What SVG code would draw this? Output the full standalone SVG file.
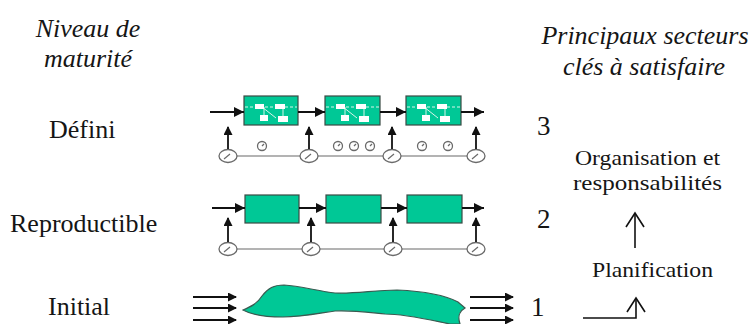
<svg xmlns="http://www.w3.org/2000/svg" width="755" height="324" viewBox="0 0 755 324">
<style>
.t{fill:#151515}
.it{font-style:italic;font-size:26px}
.lv{font-size:26px}
.num{font-size:27px}
.sm{font-size:21px}
.box{fill:#00C896;stroke:#3a4a44;stroke-width:1.2}
.flow{stroke:#111;stroke-width:2;fill:none}
.up{stroke:#111;stroke-width:1.8;fill:none}
.gl{stroke:#9a9a9a;stroke-width:1.6;fill:none}
.clk{fill:#fff;stroke:#6a6a6a;stroke-width:1.3}
.hand{stroke:#6a6a6a;stroke-width:1.2}
.wr{fill:#fff}
.wl{stroke:#d8f5ea;stroke-width:1}
.chev{stroke:#111;stroke-width:1.6;fill:none}
.blob{fill:#00C896;stroke:#3a5a50;stroke-width:1.2}
</style>
<defs>
<marker id="ah" markerUnits="userSpaceOnUse" markerWidth="12" markerHeight="12" refX="10" refY="5" orient="auto">
<path d="M0,0 L10,5 L0,10 Z" fill="#111"/>
</marker>
<marker id="ahs" markerUnits="userSpaceOnUse" markerWidth="10" markerHeight="10" refX="8" refY="4.5" orient="auto">
<path d="M0,0 L9,4.5 L0,9 Z" fill="#111"/>
</marker>
</defs>

<g id="labels-left" font-family="'Liberation Serif', 'DejaVu Serif', serif">
<text class="t it" x="88" y="37" text-anchor="middle">Niveau de</text>
<text class="t it" x="88" y="67" text-anchor="middle">maturité</text>
<text class="t lv" x="49" y="138">Défini</text>
<text class="t lv" x="10" y="232">Reproductible</text>
<text class="t lv" x="48" y="315">Initial</text>
</g>

<g id="labels-right" font-family="'Liberation Serif', 'DejaVu Serif', serif">
<text class="t it" x="645" y="44" text-anchor="middle">Principaux secteurs</text>
<text class="t it" x="644" y="75" text-anchor="middle">clés à satisfaire</text>
<text class="t num" x="537" y="135">3</text>
<text class="t num" x="537" y="228">2</text>
<text class="t num" x="531" y="316">1</text>
<text class="t sm" x="575" y="165" textLength="145" lengthAdjust="spacingAndGlyphs">Organisation et</text>
<text class="t sm" x="573" y="190" textLength="149" lengthAdjust="spacingAndGlyphs">responsabilités</text>
<text class="t sm" x="592" y="277" textLength="121" lengthAdjust="spacingAndGlyphs">Planification</text>
</g>

<g id="level3-defini">
<g id="d-box1">
<rect class="box" x="244" y="96" width="54" height="29"/>
<line class="wl" x1="245" y1="107" x2="297" y2="107" stroke-dasharray="3 2"/>
<line class="wl" x1="262" y1="107" x2="276" y2="118"/>
<line class="wl" x1="264" y1="107" x2="264" y2="116"/>
<line class="wl" x1="283" y1="107" x2="283" y2="117"/>
<rect class="wr" x="255" y="104" width="9" height="5"/>
<rect class="wr" x="275" y="104" width="10" height="5"/>
<rect class="wr" x="260" y="115" width="8" height="6"/>
<rect class="wr" x="278" y="116" width="10" height="6"/>
</g>
<g id="d-box2">
<rect class="box" x="325" y="96" width="55" height="29"/>
<line class="wl" x1="326" y1="107" x2="379" y2="107" stroke-dasharray="3 2"/>
<line class="wl" x1="343" y1="107" x2="357" y2="118"/>
<line class="wl" x1="345" y1="107" x2="345" y2="116"/>
<line class="wl" x1="364" y1="107" x2="364" y2="117"/>
<rect class="wr" x="336" y="104" width="9" height="5"/>
<rect class="wr" x="356" y="104" width="10" height="5"/>
<rect class="wr" x="341" y="115" width="8" height="6"/>
<rect class="wr" x="359" y="116" width="10" height="6"/>
</g>
<g id="d-box3">
<rect class="box" x="406" y="96" width="55" height="29"/>
<line class="wl" x1="407" y1="107" x2="460" y2="107" stroke-dasharray="3 2"/>
<line class="wl" x1="424" y1="107" x2="438" y2="118"/>
<line class="wl" x1="426" y1="107" x2="426" y2="116"/>
<line class="wl" x1="445" y1="107" x2="445" y2="117"/>
<rect class="wr" x="417" y="104" width="9" height="5"/>
<rect class="wr" x="437" y="104" width="10" height="5"/>
<rect class="wr" x="422" y="115" width="8" height="6"/>
<rect class="wr" x="440" y="116" width="10" height="6"/>
</g>
<g id="d-clocks">
<line class="gl" x1="228" y1="156" x2="476" y2="156"/>
<ellipse class="clk" cx="228" cy="156" rx="9" ry="6.5"/><line class="hand" x1="224" y1="159" x2="230" y2="154"/>
<ellipse class="clk" cx="309" cy="156" rx="9" ry="6.5"/><line class="hand" x1="305" y1="159" x2="311" y2="154"/>
<ellipse class="clk" cx="392" cy="156" rx="9" ry="6.5"/><line class="hand" x1="388" y1="159" x2="394" y2="154"/>
<ellipse class="clk" cx="476" cy="156" rx="9" ry="6.5"/><line class="hand" x1="472" y1="159" x2="478" y2="154"/>
<circle class="clk" cx="262" cy="146" r="4.5"/><line class="hand" x1="262" y1="146" x2="264" y2="144"/>
<circle class="clk" cx="338" cy="146" r="4.5"/><line class="hand" x1="338" y1="146" x2="340" y2="144"/>
<circle class="clk" cx="354" cy="146" r="4.5"/><line class="hand" x1="354" y1="146" x2="356" y2="144"/>
<circle class="clk" cx="370" cy="146" r="4.5"/><line class="hand" x1="370" y1="146" x2="372" y2="144"/>
<circle class="clk" cx="422" cy="146" r="4.5"/><line class="hand" x1="422" y1="146" x2="424" y2="144"/>
<circle class="clk" cx="448" cy="146" r="4.5"/><line class="hand" x1="448" y1="146" x2="450" y2="144"/>
</g>
</g>

<g id="level2-reproductible">
<rect id="r-box1" class="box" x="245" y="195" width="54" height="28"/>
<rect id="r-box2" class="box" x="326" y="195" width="55" height="28"/>
<rect id="r-box3" class="box" x="407" y="195" width="55" height="28"/>
<g id="r-clocks">
<line class="gl" x1="228" y1="249" x2="476" y2="249"/>
<ellipse class="clk" cx="228" cy="249" rx="9" ry="6.5"/><line class="hand" x1="224" y1="252" x2="230" y2="247"/>
<ellipse class="clk" cx="311" cy="249" rx="9" ry="6.5"/><line class="hand" x1="307" y1="252" x2="313" y2="247"/>
<ellipse class="clk" cx="393" cy="249" rx="9" ry="6.5"/><line class="hand" x1="389" y1="252" x2="395" y2="247"/>
<ellipse class="clk" cx="476" cy="249" rx="9" ry="6.5"/><line class="hand" x1="472" y1="252" x2="478" y2="247"/>
</g>
</g>

<g id="level1-initial">
<path class="blob" d="M243,310 C250,307 257,304 262,296 C268,288 274,285 284,285 C300,286 318,291 335,293 C355,294 375,290 397,290 C420,291 445,295 458,302 L465,308 C460,311 457,315 460,324 L450,324 C430,320 405,314 385,314 C365,312 350,310 335,311 C315,314 300,317 283,317 C265,317 252,315 243,310 Z"/>
</g>

<g id="connectors">
<line class="flow" x1="210" y1="112" x2="244" y2="112" marker-end="url(#ah)"/>
<line class="flow" x1="298" y1="112" x2="325" y2="112" marker-end="url(#ah)"/>
<line class="flow" x1="380" y1="112" x2="406" y2="112" marker-end="url(#ah)"/>
<line class="flow" x1="461" y1="112" x2="484" y2="112" marker-end="url(#ah)"/>
<line class="up" x1="228" y1="149" x2="228" y2="127" marker-end="url(#ahs)"/>
<line class="up" x1="309" y1="149" x2="309" y2="127" marker-end="url(#ahs)"/>
<line class="up" x1="392" y1="149" x2="392" y2="127" marker-end="url(#ahs)"/>
<line class="up" x1="476" y1="149" x2="476" y2="127" marker-end="url(#ahs)"/>

<line class="flow" x1="212" y1="208" x2="245" y2="208" marker-end="url(#ah)"/>
<line class="flow" x1="299" y1="208" x2="326" y2="208" marker-end="url(#ah)"/>
<line class="flow" x1="381" y1="208" x2="407" y2="208" marker-end="url(#ah)"/>
<line class="flow" x1="462" y1="208" x2="484" y2="208" marker-end="url(#ah)"/>
<line class="up" x1="228" y1="242" x2="228" y2="218" marker-end="url(#ahs)"/>
<line class="up" x1="311" y1="242" x2="311" y2="218" marker-end="url(#ahs)"/>
<line class="up" x1="393" y1="242" x2="393" y2="218" marker-end="url(#ahs)"/>
<line class="up" x1="476" y1="242" x2="476" y2="218" marker-end="url(#ahs)"/>

<line class="up" x1="193" y1="297" x2="236" y2="297" marker-end="url(#ahs)"/>
<line class="up" x1="193" y1="308" x2="236" y2="308" marker-end="url(#ahs)"/>
<line class="up" x1="193" y1="320" x2="236" y2="320" marker-end="url(#ahs)"/>
<line class="up" x1="470" y1="297" x2="513" y2="297" marker-end="url(#ahs)"/>
<line class="up" x1="470" y1="308" x2="513" y2="308" marker-end="url(#ahs)"/>
<line class="up" x1="470" y1="320" x2="513" y2="320" marker-end="url(#ahs)"/>

<g id="key-arrow-up">
<line class="chev" x1="635" y1="248" x2="635" y2="214"/>
<polyline class="chev" points="626,227 635,213 644,227"/>
</g>
<g id="key-arrow-corner">
<polyline class="chev" points="583,318 636,318 636,299"/>
<polyline class="chev" points="627,312 636,298 645,312"/>
</g>
</g>
</svg>
